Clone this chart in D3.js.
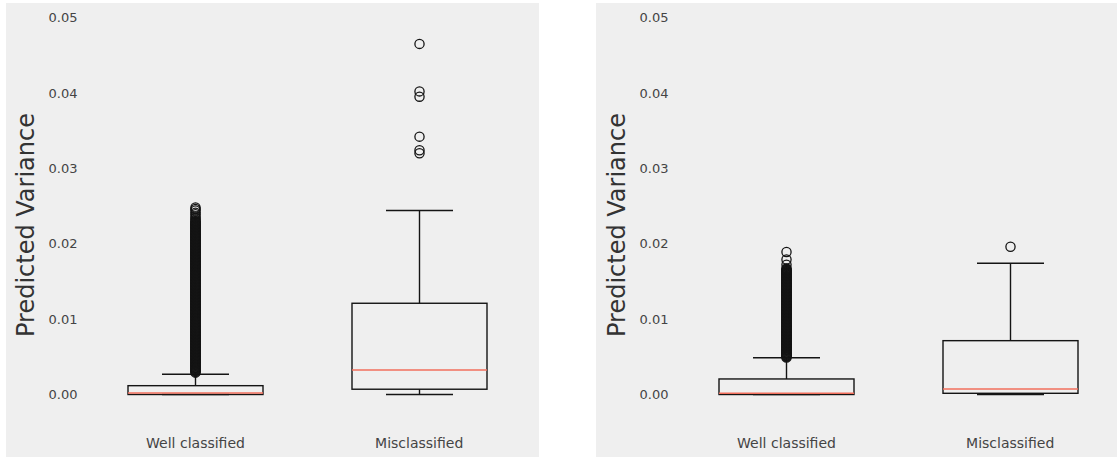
<!DOCTYPE html>
<html lang="en">
<head>
<meta charset="utf-8">
<title>predicted variance boxplots</title>
<script src="https://d3js.org/d3.v7.min.js"></script>
<style>
  body { margin: 0; background: #fff; }
  svg { display: block; }
  .tick text { font-family: "DejaVu Sans", sans-serif; fill: #444; }
  .ylab { font-family: "DejaVu Sans", sans-serif; font-size: 24px; fill: #333; }
</style>
</head>
<body>
<svg width="1117" height="457"></svg>
<script>
// categories and y ticks
const categories = ["Well classified", "Misclassified"];
const yTicks = [0.00, 0.01, 0.02, 0.03, 0.04, 0.05];

// box stats [q1, median, q3, lowWhisker, highWhisker]
const leftWell = [0.0000, 0.0002, 0.00117, 0.0000, 0.00268];
const leftMis  = [0.0007, 0.00325, 0.0121, 0.0000, 0.0244];
const rightWell = [0.0000, 0.00016, 0.00206, 0.0000, 0.00488];
const rightMis  = [0.00016, 0.00073, 0.00714, 0.0000, 0.0174];

// outliers (the well classified ones are a dense column)
const leftWellOut = [
  0.0248,0.0246,0.0244,0.0241,0.0239,0.0236,0.0234,0.0232,
  0.0230,0.0229,0.0228,0.0227,0.0226,0.0225,0.0224,0.0223,0.0222,0.0221,
  0.0220,0.0219,0.0218,0.0217,0.0216,0.0215,0.0214,0.0213,0.0212,0.0211,
  0.0210,0.0209,0.0208,0.0207,0.0206,0.0205,0.0204,0.0203,0.0202,0.0201,
  0.0200,0.0199,0.0198,0.0197,0.0196,0.0195,0.0194,0.0193,0.0192,0.0191,
  0.0190,0.0189,0.0188,0.0187,0.0186,0.0185,0.0184,0.0183,0.0182,0.0181,
  0.0180,0.0179,0.0178,0.0177,0.0176,0.0175,0.0174,0.0173,0.0172,0.0171,
  0.0170,0.0169,0.0168,0.0167,0.0166,0.0165,0.0164,0.0163,0.0162,0.0161,
  0.0160,0.0159,0.0158,0.0157,0.0156,0.0155,0.0154,0.0153,0.0152,0.0151,
  0.0150,0.0149,0.0148,0.0147,0.0146,0.0145,0.0144,0.0143,0.0142,0.0141,
  0.0140,0.0139,0.0138,0.0137,0.0136,0.0135,0.0134,0.0133,0.0132,0.0131,
  0.0130,0.0129,0.0128,0.0127,0.0126,0.0125,0.0124,0.0123,0.0122,0.0121,
  0.0120,0.0119,0.0118,0.0117,0.0116,0.0115,0.0114,0.0113,0.0112,0.0111,
  0.0110,0.0109,0.0108,0.0107,0.0106,0.0105,0.0104,0.0103,0.0102,0.0101,
  0.0100,0.0099,0.0098,0.0097,0.0096,0.0095,0.0094,0.0093,0.0092,0.0091,
  0.0090,0.0089,0.0088,0.0087,0.0086,0.0085,0.0084,0.0083,0.0082,0.0081,
  0.0080,0.0079,0.0078,0.0077,0.0076,0.0075,0.0074,0.0073,0.0072,0.0071,
  0.0070,0.0069,0.0068,0.0067,0.0066,0.0065,0.0064,0.0063,0.0062,0.0061,
  0.0060,0.0059,0.0058,0.0057,0.0056,0.0055,0.0054,0.0053,0.0052,0.0051,
  0.0050,0.0049,0.0048,0.0047,0.0046,0.0045,0.0044,0.0043,0.0042,0.0041,
  0.0040,0.0039,0.0038,0.0037,0.0036,0.0035,0.0034,0.0033,0.0032,0.0031,
  0.0030,0.0029
];
const leftMisOut = [0.0465, 0.0402, 0.0395, 0.0342, 0.0324, 0.0320];
const rightWellOut = [
  0.0189,0.0179,0.0172,0.0167,
  0.0166,0.0165,0.0164,0.0163,0.0162,0.0161,
  0.0160,0.0159,0.0158,0.0157,0.0156,0.0155,0.0154,0.0153,0.0152,0.0151,
  0.0150,0.0149,0.0148,0.0147,0.0146,0.0145,0.0144,0.0143,0.0142,0.0141,
  0.0140,0.0139,0.0138,0.0137,0.0136,0.0135,0.0134,0.0133,0.0132,0.0131,
  0.0130,0.0129,0.0128,0.0127,0.0126,0.0125,0.0124,0.0123,0.0122,0.0121,
  0.0120,0.0119,0.0118,0.0117,0.0116,0.0115,0.0114,0.0113,0.0112,0.0111,
  0.0110,0.0109,0.0108,0.0107,0.0106,0.0105,0.0104,0.0103,0.0102,0.0101,
  0.0100,0.0099,0.0098,0.0097,0.0096,0.0095,0.0094,0.0093,0.0092,0.0091,
  0.0090,0.0089,0.0088,0.0087,0.0086,0.0085,0.0084,0.0083,0.0082,0.0081,
  0.0080,0.0079,0.0078,0.0077,0.0076,0.0075,0.0074,0.0073,0.0072,0.0071,
  0.0070,0.0069,0.0068,0.0067,0.0066,0.0065,0.0064,0.0063,0.0062,0.0061,
  0.0060,0.0059,0.0058,0.0057,0.0056,0.0055,0.0054,0.0053,0.0052,0.0051,
  0.0050,0.0049
];
const rightMisOut = [0.0196];

const panels = [
  {dx: 0,   bgX: 6,   boxes: [leftWell, leftMis],   outs: [leftWellOut, leftMisOut]},
  {dx: 591, bgX: 596, boxes: [rightWell, rightMis], outs: [rightWellOut, rightMisOut]}
];

const svg = d3.select("svg");

const y = d3.scaleLinear().domain([0, 0.05]).range([394.5, 17.5]);
const x = d3.scalePoint().domain(categories).range([195, 418.7]);
const boxW = 135, capW = 67;
const ink = "#141414";

panels.forEach(p => {
  svg.append("rect")
     .attr("x", p.bgX).attr("y", 3)
     .attr("width", 533).attr("height", 460)
     .attr("fill", "#efefef");

  const g = svg.append("g").attr("transform", "translate(" + p.dx + ",0)");

  // y axis
  const ya = g.append("g")
     .attr("transform", "translate(80,0)")
     .call(d3.axisLeft(y).tickValues(yTicks).tickFormat(d3.format(".2f")).tickSize(0).tickPadding(2.5));
  ya.select(".domain").remove();
  ya.selectAll("text").style("font-size", "13px");

  // x axis
  const xa = g.append("g")
     .attr("transform", "translate(0,430)")
     .call(d3.axisBottom(x).tickSize(0).tickPadding(8));
  xa.select(".domain").remove();
  xa.selectAll("text").style("font-size", "14px");

  g.append("text")
   .attr("class", "ylab")
   .attr("transform", "translate(26,225) rotate(-90)")
   .attr("text-anchor", "middle")
   .attr("dominant-baseline", "central")
   .text("Predicted Variance");

  categories.forEach((c, i) => {
    const s = p.boxes[i];
    const cx = Math.round(x(c)) + 0.5;
    const bx = g.append("g");
    // whiskers and caps
    bx.append("line").attr("x1", cx).attr("x2", cx).attr("y1", y(s[2])).attr("y2", y(s[4]))
      .attr("stroke", ink).attr("stroke-width", 1.4);
    bx.append("line").attr("x1", cx).attr("x2", cx).attr("y1", y(s[0])).attr("y2", y(s[3]))
      .attr("stroke", ink).attr("stroke-width", 1.4);
    bx.append("line").attr("x1", cx - capW / 2).attr("x2", cx + capW / 2).attr("y1", y(s[4])).attr("y2", y(s[4]))
      .attr("stroke", ink).attr("stroke-width", 1.4);
    bx.append("line").attr("x1", cx - capW / 2).attr("x2", cx + capW / 2).attr("y1", y(s[3])).attr("y2", y(s[3]))
      .attr("stroke", ink).attr("stroke-width", 1.4);
    // box
    bx.append("rect")
      .attr("x", cx - boxW / 2).attr("y", y(s[2]))
      .attr("width", boxW).attr("height", y(s[0]) - y(s[2]))
      .attr("fill", "none").attr("stroke", ink).attr("stroke-width", 1.4);
    // median
    bx.append("line").attr("x1", cx - boxW / 2).attr("x2", cx + boxW / 2).attr("y1", y(s[1])).attr("y2", y(s[1]))
      .attr("stroke", "#f26f5c").attr("stroke-width", 1.6);
    // outliers
    bx.selectAll("circle")
      .data(p.outs[i])
      .enter()
      .append("circle")
      .attr("cx", cx).attr("cy", d => y(d))
      .attr("r", 4.6)
      .attr("fill", "none")
      .attr("stroke", ink)
      .attr("stroke-width", 1.3);
  });
});
</script>
</body>
</html>
